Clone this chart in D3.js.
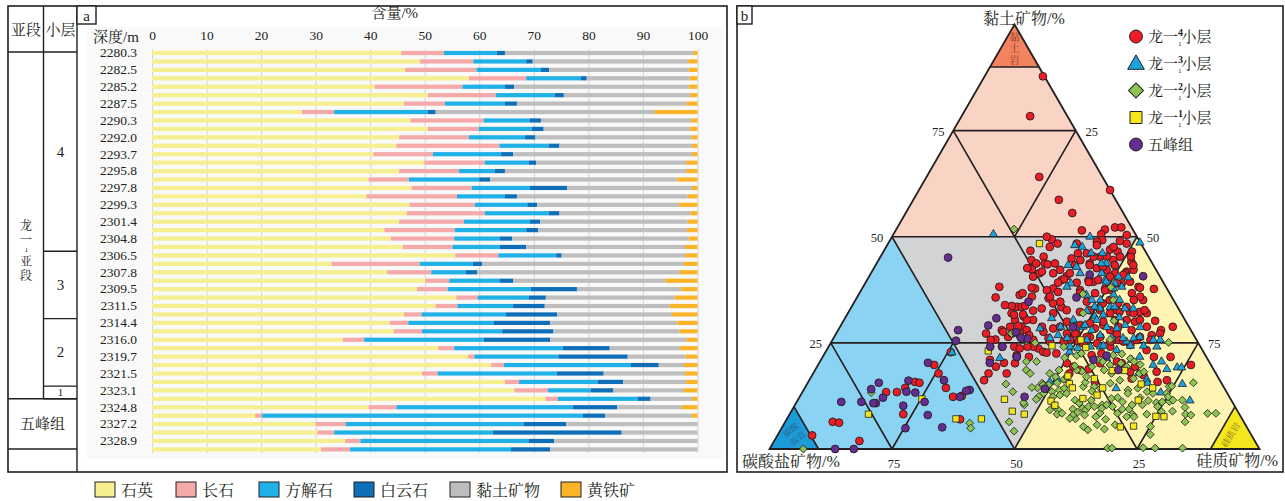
<!DOCTYPE html>
<html>
<head>
<meta charset="utf-8">
<script src="https://cdn.jsdelivr.net/npm/d3@7"></script>
<style>
  body { margin: 0; background: #fff; }
  svg { display: block; }
  text { font-family: "Liberation Serif", "Noto Serif CJK SC", "Noto Sans CJK SC", serif; fill: #231f20; }
</style>
</head>
<body>
<svg id="fig" width="1285" height="501"></svg>
<script>
// ---------- Panel a: mineral content by depth (%) ----------
const depthLabels = ["2280.3","2282.5","2285.2","2287.5","2290.3","2292.0","2293.7","2295.8",
  "2297.8","2299.3","2301.4","2304.8","2306.5","2307.8","2309.5","2311.5","2314.4","2316.0",
  "2319.7","2321.5","2323.1","2324.8","2327.2","2328.9"];
const mineralNames = ["石英","长石","方解石","白云石","黏土矿物","黄铁矿"];
const quartz   = [45.7,49.1,46.4,58.1,40.8,50.6,46.2,27.5,47.4,50.6,45.3,44.8,40.6,49.9,45.3,39.7,47.6,39.3,47.2,46.7,45.3,42.6,43.8,46.0,55.6,32.9,43.1,50.1,48.6,55.8,52.0,46.2,43.6,44.3,35.0,52.5,57.9,62.2,49.5,64.7,66.4,72.1,39.7,18.9,30.0,30.3,35.4,31.0];
const feldspar = [7.8,9.8,13.1,10.5,16.1,12.4,7.5,5.9,13.4,9.3,12.8,18.9,10.9,11.1,11.0,7.4,11.0,16.6,12.0,14.3,11.9,12.9,11.6,9.1,7.9,16.2,8.1,4.4,5.6,3.9,4.0,3.2,3.4,5.2,3.9,2.9,1.2,2.3,2.9,2.6,6.2,2.3,5.1,1.3,5.5,3.1,2.8,5.3];
const calcite  = [9.7,9.7,11.8,10.0,7.8,10.8,11.0,17.2,8.4,9.7,10.3,9.0,12.5,8.1,6.5,12.9,10.7,8.8,9.6,11.7,12.1,13.1,8.3,8.6,10.6,9.7,6.3,9.2,15.2,9.4,10.2,15.5,15.6,14.7,21.9,19.9,15.4,23.3,21.8,14.4,7.8,14.6,32.3,58.8,32.6,29.1,30.8,29.5];
const dolomite = [1.5,1.2,1.5,1.1,1.7,1.7,2.2,1.4,2.1,2.2,1.9,2.0,2.2,1.3,1.9,2.0,6.8,2.2,1.8,2.0,1.9,2.2,2.3,4.9,1.0,1.7,2.1,2.5,8.5,3.1,5.8,9.4,10.4,9.4,12.2,8.6,12.7,5.1,8.6,4.7,4.2,2.4,8.2,4.1,7.8,23.6,4.7,7.2];
const clayMin  = [34.5,28.5,25.6,18.9,32.0,23.2,31.1,40.2,27.5,26.8,28.6,24.3,32.8,27.5,33.2,34.3,22.9,31.3,26.0,24.0,27.0,27.3,32.4,29.1,22.6,37.0,37.1,27.9,19.1,23.6,22.9,21.0,23.3,23.1,25.0,12.9,10.6,4.6,14.9,11.5,12.9,7.6,11.8,15.9,24.1,13.9,26.3,27.0];
const pyrite   = [0.8,1.7,1.6,1.4,1.6,1.3,2.0,7.8,1.2,1.4,1.1,1.0,1.0,2.1,2.1,3.7,1.0,1.8,3.4,1.3,1.8,1.9,1.6,2.3,2.3,2.5,3.3,5.9,3.0,4.2,5.1,4.7,3.7,3.3,2.0,3.2,2.2,2.5,2.3,2.1,2.5,1.0,2.9,1.0,0,0,0,0];
const xTicks = [0,10,20,30,40,50,60,70,80,90,100];

// sub-layer column of the stratigraphic table: label and sample-row span
const subLayers = [
  { label: "4", from: 0, to: 24 },
  { label: "3", from: 24, to: 32 },
  { label: "2", from: 32, to: 40 },
  { label: "1", from: 40, to: 41.5 }
];

// ---------- Panel b: ternary points, [clay %, siliceous %]; carbonate = 100 - clay - siliceous ----------
const long4 = [[87.8,11.9],[78.4,14.0],[64.1,23.0],[61.0,39.0],[58.7,29.7],[55.6,34.0],[51.5,38.0],[51.7,42.6],[52.2,44.4],[52.2,45.7],[50.6,42.4],[50.4,47.7],[49.2,43.3],[49.0,47.0],[49.4,32.9],[48.4,34.6],[48.8,42.4],[48.4,48.7],[46.5,50.7],[44.1,51.8],[46.5,47.8],[47.0,46.0],[44.5,47.9],[41.8,52.0],[42.2,53.2],[38.2,56.2],[37.7,59.6],[35.1,58.7],[32.0,61.0],[30.2,63.6],[28.0,65.9],[28.8,67.9],[26.8,64.6],[23.3,65.3],[21.7,67.6],[21.7,71.0],[19.8,76.1],[16.2,73.0],[17.4,67.6],[18.2,69.9],[16.6,65.6],[18.2,64.5],[19.4,64.9],[50.0,31.6],[47.6,33.4],[45.3,33.3],[43.7,34.3],[42.6,31.9],[44.5,31.2],[46.7,29.9],[41.4,34.4],[43.7,36.4],[42.2,38.2],[40.7,40.3],[39.8,39.7],[37.8,39.0],[37.8,35.3],[35.9,35.6],[35.5,39.2],[34.3,40.7],[33.4,42.9],[33.1,39.0],[30.4,38.6],[31.2,36.3],[33.5,33.8],[33.7,32.6],[33.9,31.1],[28.8,34.7],[28.8,37.1],[28.8,41.2],[28.4,43.7],[28.8,44.9],[27.2,47.1],[26.1,43.9],[23.7,43.0],[24.1,41.8],[21.7,42.1],[22.1,39.4],[17.8,39.5],[20.2,40.0],[22.5,47.3],[15.8,58.5],[22.1,54.7],[22.5,56.5],[20.2,57.4],[20.6,60.6],[20.2,61.8],[19.4,52.3],[18.6,54.1],[18.8,55.7],[20.2,50.6],[22.9,44.4],[39.4,46.4],[37.4,44.7],[46.1,39.9],[44.9,39.2],[43.3,40.7],[43.7,43.5],[42.6,45.5],[39.8,45.2],[37.8,49.6],[37.4,51.1],[32.7,54.5],[32.3,57.4],[32.3,59.4],[30.0,59.6],[30.4,57.7],[28.8,56.8],[28.0,55.5],[29.2,53.5],[28.4,52.2],[26.4,52.2],[27.2,49.1],[25.3,50.4],[24.5,52.5],[24.1,57.5],[25.7,58.4],[24.5,61.4],[26.4,62.4],[28.8,62.6],[35.9,57.7],[36.7,55.6],[39.0,52.4],[41.4,51.9],[41.4,49.8],[42.2,47.7],[45.3,44.9],[46.1,41.7],
  [43.7,32.6],[42.3,32.4],[43.5,35.0],[41.8,34.7],[41.4,37.2],[41.4,40.6],[40.0,40.1],[39.2,39.3],[38.0,34.5],[37.4,37.9],[37.0,40.4],[35.9,39.3],[34.7,42.0],[39.2,43.1],[36.8,45.0],[34.7,47.4],[36.7,48.1],[39.3,45.5],[39.8,47.2],[40.6,49.2],[41.0,51.7],[39.4,53.9],[38.0,56.6],[35.1,56.8],[33.5,56.1],[34.3,54.0],[35.1,51.9],[34.3,50.9],[32.7,51.1],[32.0,53.5],[32.3,55.3],[32.0,58.3],[32.7,60.2],[30.4,60.4],[30.4,55.3],[30.0,53.1],[29.6,50.6],[29.2,48.8],[30.0,45.7],[32.0,41.9],[32.6,37.5],[33.5,34.7],[30.4,37.3],[30.4,34.9],[27.6,42.1],[27.2,48.8],[26.4,51.5],[26.4,54.3],[27.2,57.3],[28.0,59.9],[27.2,66.1],[25.7,64.9],[25.7,62.1],[25.3,59.6],[25.3,56.9],[24.9,54.4],[24.9,51.6],[25.7,48.5],[25.3,47.4],[25.3,44.6],[25.7,41.0],[26.8,37.7],[26.4,35.5],[28.0,33.4],[48.4,38.5],[48.0,42.8],[47.6,46.4],[45.3,51.1],[45.3,48.9],[45.3,46.2],[45.3,43.5],[44.5,41.2],[43.3,43.7],[42.9,46.6],[43.3,48.8],[43.3,52.6],[39.0,51.4],[37.4,49.8],[32.7,49.0],[32.3,47.2],[32.7,44.3],[36.3,32.9],[32.0,33.4],[40.6,33.5],
  [38.2,27.8],[35.7,28.3],[27.2,30.6],[25.8,33.2],[27.6,33.9],[29.0,36.3],[33.7,35.3],[31.6,34.1],[31.7,35.9],[27.2,35.9],[28.0,38.5],[26.8,39.6],[42.6,31.3],[36.7,33.3],[25.7,32.3],[24.1,35.4],[24.1,37.9],[24.1,40.6],[21.0,34.5],[19.4,36.5],[20.3,37.7],[21.7,39.6],[23.7,39.2],[17.8,35.8],[16.2,35.7],[22.7,45.2],[17.8,52.3],[15.8,71.3],
  [22.8,25.6],[19.8,23.7],[17.8,25.6],[14.4,28.8],[12.5,33.0],[12.3,31.3],[15.8,21.8],[15.6,22.8],[14.4,20.5],[13.4,19.3],[13.4,17.1],[8.2,23.2],[6.4,9.7],[6.2,11.1],[7.0,35.4],[3.2,7.1],[1.9,17.4]];
const long3 = [[50.6,20.4],[50.0,40.4],[22.7,25.9],[21.4,36.3],[15.8,49.3],[16.5,50.5],[14.3,63.6],[16.4,68.8],[18.8,71.7],[19.2,73.6],[19.2,74.5],[15.3,76.6],[11.4,80.1],[25.3,60.2],[48.6,51.3],[48.0,38.3],[47.6,40.0],[46.1,42.6],[46.1,44.9],[43.7,46.9],[39.8,48.6],[36.3,52.1],[33.4,52.8],[33.1,50.9],[31.2,50.8],[31.0,55.9],[29.2,58.0],[26.1,61.3],[26.1,59.1],[24.1,55.5],[23.7,51.1],[22.9,49.8],[21.4,58.1],[23.3,59.2],[21.0,63.4],[21.7,64.7],[19.8,68.4],[20.6,69.7],[15.5,69.4],[13.3,73.2],[17.8,66.4],[26.1,47.7],[28.8,45.0],[30.4,46.8],[28.8,49.6],[32.5,48.5],[36.3,46.5],[39.0,42.0],[41.4,42.7],[43.3,39.3],[42.9,41.2],[41.4,47.1],[39.4,49.0],[39.0,51.0],[35.1,53.9],[33.1,56.0],[35.1,50.0],[35.1,48.2],[16.2,52.6],[43.7,45.9],[40.6,50.9],[40.4,53.0],[37.8,51.3],[38.2,52.8],[38.2,41.6],[33.1,57.7],[33.5,53.7],[33.5,49.6],[31.6,52.3],[30.4,51.6],[28.7,54.5],[28.4,56.7],[28.7,61.3],[29.2,49.8],[28.8,48.0],[28.0,51.8],[26.8,54.1],[26.1,56.8],[26.4,62.4],[25.7,65.5],[25.7,66.9],[30.8,42.2],[26.8,45.5],[28.4,41.0],[26.1,44.2],[25.7,51.9],[24.1,49.3],[24.1,53.4],[24.3,56.0],[24.3,61.5],[24.3,64.2],[24.1,67.0]];
const long2 = [[51.8,24.0],[0,6.9],[13.3,14.1],[6.1,37.8],[4.9,38.6],[20.6,42.1],[18.6,43.1],[17.8,44.3],[15.3,40.6],[13.5,42.9],[10.4,46.8],[6.4,45.7],[4.2,47.8],[20.6,44.2],[14.4,47.5],[14.5,46.3],[12.4,48.8],[15.5,47.9],[13.5,50.9],[13.9,52.2],[14.3,53.0],[12.7,52.9],[9.2,54.3],[8.2,54.6],[9.4,57.2],[8.6,58.5],[7.1,58.9],[9.6,59.1],[9.2,59.9],[4.5,62.7],[4.7,66.0],[10.4,62.7],[10.4,63.6],[10.0,65.0],[12.1,65.0],[9.4,67.3],[9.4,68.7],[8.1,70.1],[10.4,68.8],[10.4,70.9],[11.4,71.6],[3.4,76.0],[10.9,73.5],[11.1,74.6],[11.2,76.0],[13.1,74.5],[8.9,77.8],[9.8,79.9],[8.2,80.8],[15.6,78.7],[14.7,74.2],[15.5,61.8],[14.7,58.9],[13.6,59.0],[14.7,56.7],[18.3,54.6],[15.7,56.6],[18.6,53.4],[18.6,49.8],[17.0,49.9],[15.6,50.9],[16.4,51.9],[19.6,52.5],[19.4,56.1],[20.6,57.7],[18.6,59.0],[19.8,59.6],[20.2,61.6],[22.4,60.7],[22.1,59.1],[21.3,63.0],[20.6,64.1],[17.8,66.6],[18.2,67.3],[19.9,65.7],[0.2,68.9],[0.2,69.8],[0.3,76.1],[0.2,78.6],[0.2,84.2],[25.1,68.9],[22.0,51.7],[21.5,49.5],[7.0,65.1],[7.6,62.8],[11.9,63.8],[11.5,59.9],[10.0,60.1],[8.0,60.3],[11.5,56.6],[8.2,72.9],[13.1,71.7],[11.5,76.6],[6.4,81.6],[8.0,82.0],[5.3,75.1],[5.7,67.7],[5.7,64.0],[5.3,61.4],[8.0,57.9],[13.1,54.1],[15.1,49.4],[12.3,51.7],[13.1,49.4],[11.7,48.6],[9.2,52.6],[7.2,57.7],[10.8,57.8],[8.5,63.2],[11.1,66.5],[13.9,66.2],[11.5,78.5],[8.4,85.2],[8.4,86.9],[14.8,74.7],[12.3,75.2],[10.0,74.2],[13.5,70.3],[12.1,69.6],[7.6,69.1],[7.6,70.6],[8.4,66.8],[9.6,63.0],[10.0,61.3],[8.4,55.5],[10.7,52.5],[15.1,48.3],[10.9,46.4],[24.1,48.0],[22.5,52.4],[25.8,56.6],[35.1,52.6],[32.0,48.0],[36.5,45.7],[21.0,56.3],[17.8,60.9],[19.4,63.2],[16.6,66.0],[16.2,63.4],[17.0,56.2],[17.0,52.2],[17.8,48.3],[14.3,60.4],[13.1,66.6],[14.3,68.0],[8.8,75.6],[38.1,50.6],[30.2,55.2],[27.2,35.8],[25.5,39.7],[25.0,41.7]];
const long1 = [[48.4,30.9],[8.2,16.1],[11.8,25.2],[7.1,34.5],[7.1,39.7],[23.1,33.1],[11.7,42.1],[8.9,45.1],[8.2,47.9],[24.3,45.5],[17.2,52.3],[15.4,53.5],[14.4,54.6],[16.6,58.0],[14.4,60.8],[12.7,60.5],[11.9,58.0],[11.3,51.8],[10.3,53.1],[18.5,60.7],[18.5,63.2],[15.3,68.2],[14.4,71.0],[11.5,69.5],[5.2,69.0],[5.4,71.6],[7.7,75.0],[7.6,76.7],[25.7,50.7],[23.9,52.6]];
const wufeng = [[45.1,13.9],[28.0,24.5],[25.5,25.3],[20.3,22.2],[16.2,27.5],[13.9,33.9],[13.7,33.3],[12.3,32.7],[11.1,26.1],[16.1,20.3],[13.5,21.2],[13.3,23.1],[12.1,17.1],[15.6,14.5],[14.1,13.7],[10.8,16.3],[10.8,15.8],[11.1,13.2],[11.1,9.1],[10.2,22.2],[8.0,28.3],[4.9,25.3],[5.1,32.7],[0,17.2],[0,13.4],[30.8,30.9],[29.1,30.1],[34.7,35.5],[27.5,36.5],[24.1,33.0],[20.3,34.8],[26.0,39.6],[12.3,45.9],[14.2,49.1],[21.7,39.6],[24.1,35.5],[22.0,57.8],[18.6,61.9],[21.0,55.6],[40.7,55.9],[41.1,44.8],[35.7,44.8],[28.7,47.6],[26.2,38.2]];
const ternaryTicks = [25, 50, 75];

// =====================================================================
const svg = d3.select("#fig");
const ink = "#231f20";
const mineralColors = ["#f5ef8f","#f5a9a9","#20b2e6","#0e6fb8","#bebebe","#fbb428"];

// ---------- frames ----------
svg.append("rect").attr("x", 8).attr("y", 6).attr("width", 719).attr("height", 466)
  .attr("fill", "none").attr("stroke", ink).attr("stroke-width", 1.6);
svg.append("rect").attr("x", 737).attr("y", 6).attr("width", 546).attr("height", 466)
  .attr("fill", "none").attr("stroke", ink).attr("stroke-width", 1.6);

// ---------- stratigraphic table ----------
const tbl = svg.append("g");
const rowY = d3.scaleLinear().domain([0, 47]).range([53, 449.4]);
const band = rowY(1) - rowY(0);
const layerEdge = i => rowY(i) - band / 2;
const lineAttrs = sel => sel.attr("stroke", ink).attr("stroke-width", 1.4);
tbl.append("line").attr("x1", 43.5).attr("x2", 43.5).attr("y1", 6).attr("y2", layerEdge(41.5)).call(lineAttrs);
tbl.append("line").attr("x1", 77).attr("x2", 77).attr("y1", 6).attr("y2", 472).call(lineAttrs);
tbl.append("line").attr("x1", 8).attr("x2", 77).attr("y1", 52).attr("y2", 52).call(lineAttrs);
subLayers.forEach(d => {
  const y0 = Math.max(layerEdge(d.from), 52), y1 = layerEdge(d.to);
  tbl.append("line").attr("x1", 43.5).attr("x2", 77).attr("y1", y1).attr("y2", y1).call(lineAttrs);
  tbl.append("text").attr("x", 60.5).attr("y", (y0 + y1) / 2)
    .attr("text-anchor", "middle").attr("dominant-baseline", "central")
    .attr("font-size", d.label === "1" ? 11 : 15).text(d.label);
});
const wfTop = layerEdge(41.5), wfBot = 449;
tbl.append("line").attr("x1", 8).attr("x2", 77).attr("y1", wfTop).attr("y2", wfTop).call(lineAttrs);
tbl.append("line").attr("x1", 8).attr("x2", 77).attr("y1", wfBot).attr("y2", wfBot).call(lineAttrs);
tbl.append("text").attr("x", 42.5).attr("y", (wfTop + wfBot) / 2).attr("text-anchor", "middle")
  .attr("dominant-baseline", "central").attr("font-size", 15).text("五峰组");
tbl.append("text").attr("x", 26).attr("y", 30).attr("text-anchor", "middle")
  .attr("dominant-baseline", "central").attr("font-size", 15).text("亚段");
tbl.append("text").attr("x", 60.5).attr("y", 30).attr("text-anchor", "middle")
  .attr("dominant-baseline", "central").attr("font-size", 15).text("小层");
// vertical sub-member name 龙一1亚段
const vName = tbl.append("g").attr("font-size", 12).attr("text-anchor", "middle");
[["龙", 226], ["一", 240], ["亚", 262], ["段", 276]].forEach(([c, yy]) =>
  vName.append("text").attr("x", 26).attr("y", yy).attr("dominant-baseline", "central").text(c));
vName.append("text").attr("x", 26.5).attr("y", 250).attr("font-size", 7)
  .attr("dominant-baseline", "central").text("1");

// ---------- bar chart ----------
const a = svg.append("g");
a.append("rect").attr("x", 87).attr("y", 27).attr("width", 635).attr("height", 432).attr("fill", "#f9f9f9");
a.append("rect").attr("x", 77).attr("y", 6).attr("width", 19).attr("height", 18)
  .attr("fill", "#fff").attr("stroke", ink).attr("stroke-width", 1.4);
a.append("text").attr("x", 86.5).attr("y", 15.5).attr("text-anchor", "middle")
  .attr("dominant-baseline", "central").attr("font-size", 15).text("a");

const x = d3.scaleLinear().domain([0, 100]).range([152, 697.5]);
const rows = d3.range(quartz.length);
const y = d3.scaleBand().domain(rows).range([rowY(0) - band / 2, rowY(47) + band / 2]).paddingInner(0.5).paddingOuter(0.25);

a.append("g").attr("transform", `translate(0,${453})`)
  .call(d3.axisTop(x).tickValues(xTicks).tickSize(404).tickFormat(""))
  .call(g => g.select(".domain").remove())
  .call(g => g.selectAll("line").attr("stroke", "#d4d4d4").attr("stroke-width", 1));
a.append("g").attr("transform", `translate(0,${40})`)
  .call(d3.axisTop(x).tickValues(xTicks).tickSize(0).tickPadding(0))
  .call(g => g.select(".domain").remove())
  .call(g => g.selectAll("text").attr("font-size", 13.5).attr("fill", "#404040")
    .attr("font-family", "Liberation Serif, serif"));
a.append("text").attr("x", x(44.5)).attr("y", 18).attr("text-anchor", "middle")
  .attr("font-size", 15).attr("fill", "#404040").text("含量/%");
a.append("text").attr("x", 116).attr("y", 42).attr("text-anchor", "middle")
  .attr("font-size", 15).attr("fill", "#404040").text("深度/m");

a.append("g").attr("transform", `translate(${137},0)`)
  .call(d3.axisLeft(y).tickValues(rows.filter(i => i % 2 === 0)).tickSize(0).tickPadding(0)
    .tickFormat(i => depthLabels[i / 2]))
  .call(g => g.select(".domain").remove())
  .call(g => g.selectAll("text").attr("font-size", 13.5).attr("fill", "#555"));

const table = rows.map(i => ({ i, q: quartz[i], f: feldspar[i], c: calcite[i], d: dolomite[i], k: clayMin[i], p: pyrite[i] }));
const stack = d3.stack().keys(["q","f","c","d","k","p"])(table);
a.append("g").selectAll("g").data(stack).join("g")
  .attr("fill", (d, j) => mineralColors[j])
  .selectAll("rect").data(d => d).join("rect")
  .attr("x", d => x(d[0])).attr("width", d => Math.max(0, x(d[1]) - x(d[0])))
  .attr("y", d => y(d.data.i)).attr("height", y.bandwidth());

const legX = [95, 176, 259, 354, 450, 561];
const leg = svg.append("g");
mineralNames.forEach((n, j) => {
  leg.append("rect").attr("x", legX[j]).attr("y", 482).attr("width", 20).attr("height", 15)
    .attr("fill", mineralColors[j]).attr("stroke", ink).attr("stroke-width", 1);
  leg.append("text").attr("x", legX[j] + 26).attr("y", 490).attr("dominant-baseline", "central")
    .attr("font-size", 16).text(n);
});

// ---------- ternary diagram ----------
const b = svg.append("g");
b.append("rect").attr("x", 737).attr("y", 6).attr("width", 15).attr("height", 18)
  .attr("fill", "#fff").attr("stroke", ink).attr("stroke-width", 1.4);
b.append("text").attr("x", 744.5).attr("y", 15.5).attr("text-anchor", "middle")
  .attr("dominant-baseline", "central").attr("font-size", 15).text("b");

const tY = d3.scaleLinear().domain([0, 100]).range([449, 24.5]);      // clay %
const tX = d3.scaleLinear().domain([0, 100]).range([769.5, 1259.5]);  // siliceous % + clay/2
const P = ([k, s]) => [tX(s + k / 2), tY(k)];
const poly = pts => pts.map(P).map(p => p.join(",")).join(" ");

const regions = [
  { pts: [[100,0],[90,10],[90,0]], fill: "#f3825f" },
  { pts: [[90,0],[90,10],[50,50],[50,0]], fill: "#f9d3c4" },
  { pts: [[50,0],[50,50],[0,50]], fill: "#d2d3d5" },
  { pts: [[50,0],[0,50],[0,0]], fill: "#8bd3f3" },
  { pts: [[50,50],[0,100],[0,50]], fill: "#fef5b4" },
  { pts: [[0,0],[10,0],[0,10]], fill: "#1c9bd8" },
  { pts: [[0,100],[10,90],[0,90]], fill: "#f5e71d" }
];
b.append("g").selectAll("polygon").data(regions).join("polygon")
  .attr("points", d => poly(d.pts)).attr("fill", d => d.fill);

const segs = [
  [[90,0],[90,10]], [[75,0],[75,25]], [[50,0],[50,50]], [[25,0],[25,75]],
  [[75,0],[50,25]], [[75,25],[50,25]],
  [[50,0],[0,50]], [[50,50],[0,50]],
  [[50,25],[25,50]], [[25,0],[0,25]], [[25,25],[0,25]],
  [[25,50],[0,75]], [[25,75],[0,75]],
  [[10,0],[0,10]], [[10,90],[0,90]]
];
b.append("g").selectAll("line").data(segs).join("line")
  .attr("x1", d => P(d[0])[0]).attr("y1", d => P(d[0])[1])
  .attr("x2", d => P(d[1])[0]).attr("y2", d => P(d[1])[1])
  .attr("stroke", ink).attr("stroke-width", 1.6);
b.append("polygon").attr("points", poly([[100,0],[0,100],[0,0]]))
  .attr("fill", "none").attr("stroke", ink).attr("stroke-width", 1.8).attr("stroke-linejoin", "miter");

// rock names in the corner fields
b.append("g").attr("font-size", 10).attr("text-anchor", "middle")
  .selectAll("text").data(["黏","土","岩"]).join("text")
  .attr("x", 1014.5).attr("y", (d, j) => 37 + j * 11.5).attr("dominant-baseline", "central")
  .style("fill", "#8a3b25").text(d => d);
const cc = P([3.6, 3.2]);
b.append("text").attr("transform", `translate(${cc[0]},${cc[1]}) rotate(-40)`)
  .attr("font-size", 8.5).attr("text-anchor", "middle").style("fill", "#2f5f86")
  .selectAll("tspan").data(["碳酸","盐岩"]).join("tspan")
  .attr("x", 0).attr("dy", (d, j) => j === 0 ? -2 : 11).text(d => d);
const sc = P([3.3, 92.5]);
b.append("text").attr("transform", `translate(${sc[0]},${sc[1]}) rotate(-58)`)
  .attr("font-size", 9).attr("text-anchor", "middle").attr("dominant-baseline", "central")
  .style("fill", "#7d6a1e").text("硅质岩");

const tl = b.append("g").attr("font-size", 12.5).attr("text-anchor", "middle").style("fill", "#333");
ternaryTicks.forEach(v => {
  const l = P([v, 0]);            // left edge: clay
  tl.append("text").attr("x", l[0] - 15).attr("y", l[1] + 1).attr("dominant-baseline", "central").text(v);
  const r = P([100 - v, v]);      // right edge: siliceous
  tl.append("text").attr("x", r[0] + 16).attr("y", r[1] + 1).attr("dominant-baseline", "central").text(v);
  const bt = P([0, 100 - v]);     // base: carbonate
  tl.append("text").attr("x", bt[0] + 2).attr("y", bt[1] + 15).attr("dominant-baseline", "central").text(v);
});
b.append("text").attr("x", 1024).attr("y", 18).attr("text-anchor", "middle")
  .attr("dominant-baseline", "central").attr("font-size", 16).text("黏土矿物/%");
b.append("text").attr("x", 742).attr("y", 461).attr("dominant-baseline", "central")
  .attr("font-size", 16).text("碳酸盐矿物/%");
b.append("text").attr("x", 1278).attr("y", 460).attr("text-anchor", "end")
  .attr("dominant-baseline", "central").attr("font-size", 16).text("硅质矿物/%");

// scatter groups, in drawing order
const groups = [
  { data: long4,  shape: "circle",   fill: "#ec1c24", name: "4" },
  { data: long3,  shape: "triangle", fill: "#1ba3dd", name: "3" },
  { data: long2,  shape: "diamond",  fill: "#8cc552", name: "2" },
  { data: long1,  shape: "square",   fill: "#f4e81b", name: "1" },
  { data: wufeng, shape: "circle",   fill: "#652d90", name: "五峰组" }
];
const symbolPath = (shape, scale) => {
  if (shape === "triangle") return d3.symbol(d3.symbolTriangle, 30 * scale)();
  if (shape === "diamond") return d3.symbol(d3.symbolSquare, 31 * scale)();
  if (shape === "square") return d3.symbol(d3.symbolSquare, 40 * scale)();
  return null;
};
const rot = shape => shape === "diamond" ? " rotate(45)" : "";
const pts = b.append("g");
groups.forEach(gr => {
  const g = pts.append("g");
  if (gr.shape === "circle") {
    g.selectAll("circle").data(gr.data).join("circle")
      .attr("cx", d => P(d)[0]).attr("cy", d => P(d)[1]).attr("r", 3.9)
      .attr("fill", gr.fill).attr("stroke", ink).attr("stroke-width", 0.9);
  } else {
    const path = symbolPath(gr.shape, 1);
    g.selectAll("path").data(gr.data).join("path")
      .attr("transform", d => `translate(${P(d)[0]},${P(d)[1]})${rot(gr.shape)}`)
      .attr("d", path).attr("fill", gr.fill).attr("stroke", ink).attr("stroke-width", 0.8);
  }
});

// ternary legend
const lg = b.append("g");
groups.forEach((gr, j) => {
  const cy = 36.5 + j * 27;
  if (gr.shape === "circle") {
    lg.append("circle").attr("cx", 1136).attr("cy", cy).attr("r", 6.5)
      .attr("fill", gr.fill).attr("stroke", ink).attr("stroke-width", 1);
  } else {
    lg.append("path").attr("transform", `translate(1136,${cy + (gr.shape === "triangle" ? 1 : 0)})${rot(gr.shape)}`)
      .attr("d", symbolPath(gr.shape, gr.shape === "triangle" ? 4 : 3.6))
      .attr("fill", gr.fill).attr("stroke", ink).attr("stroke-width", 1);
  }
  const t = lg.append("text").attr("x", 1148).attr("y", cy + 5.5).attr("font-size", 15);
  if (gr.name === "五峰组") { t.text("五峰组"); return; }
  t.append("tspan").text("龙一");
  t.append("tspan").attr("font-size", 10).attr("font-weight", "bold").attr("dy", -6).text(gr.name);
  t.append("tspan").attr("font-size", 7).attr("dx", -5).attr("dy", 10).text("1");
  t.append("tspan").attr("dy", -4).text("小层");
});
</script>
</body>
</html>
